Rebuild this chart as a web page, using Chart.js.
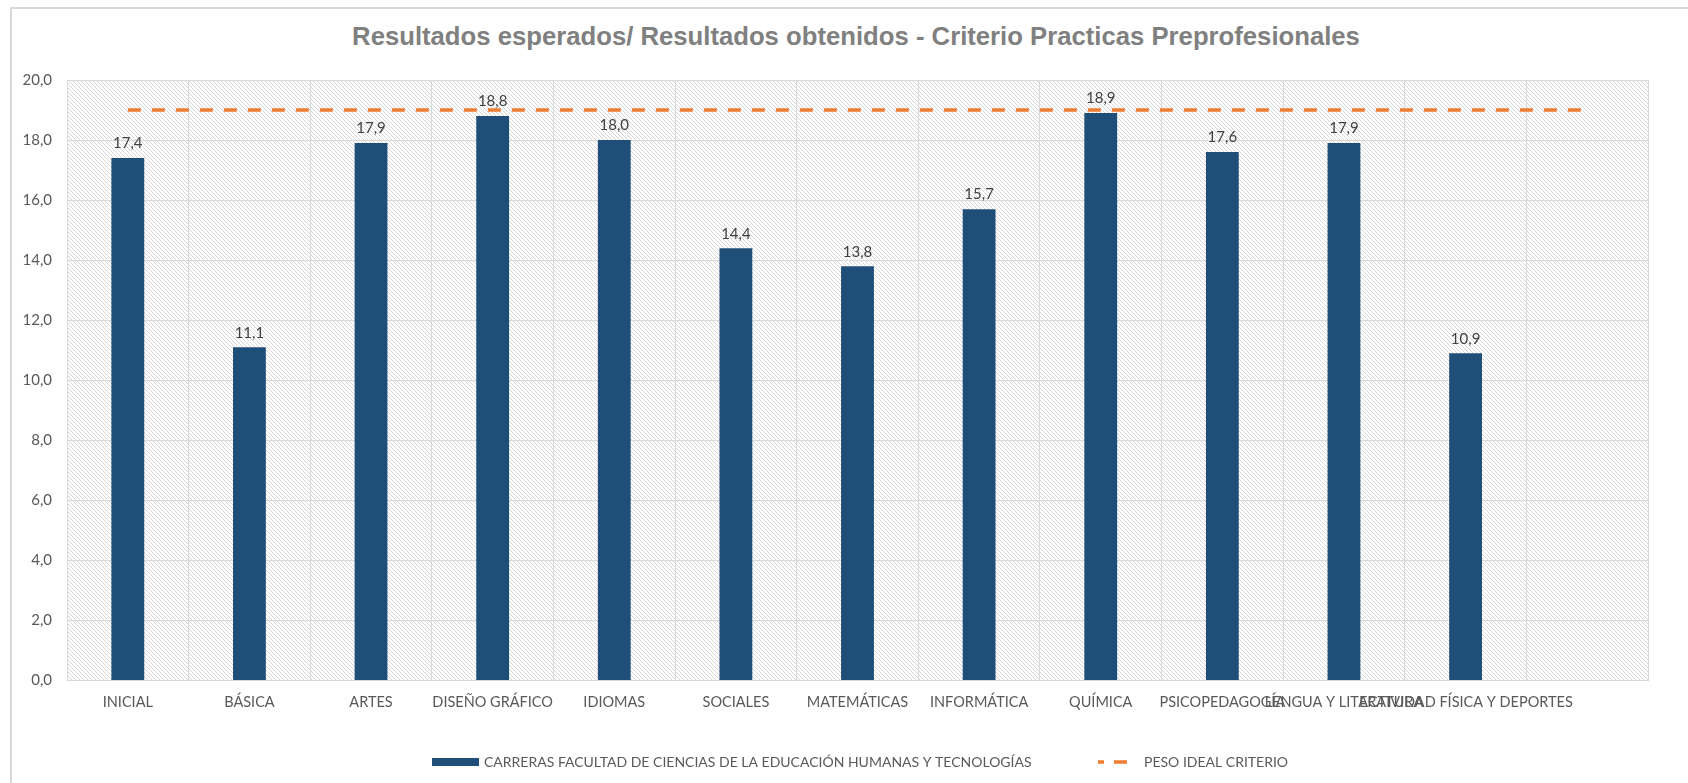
<!DOCTYPE html>
<html>
<head>
<meta charset="utf-8">
<script src="https://cdn.jsdelivr.net/npm/chart.js@4"></script>
<style>
  body { margin: 0; background: #fff; overflow: hidden; }
  #frame { position: absolute; left: 10px; top: 7px; width: 1720px; height: 820px; border: 2px solid #d9d9d9; }
  #title { position: absolute; left: 0; top: 22px; width: 1712px; text-align: center; line-height: 30px;
           font: bold 25.7px "Liberation Sans", Arial, sans-serif; color: #808080; }
  #chart { position: absolute; left: 0; top: 0; }
</style>
</head>
<body>
<div id="frame"></div>
<div id="title">Resultados esperados/ Resultados obtenidos - Criterio Practicas Preprofesionales</div>
<canvas id="chart" width="1688" height="783"></canvas>
<script>
const categories = ["INICIAL", "BÁSICA", "ARTES", "DISEÑO GRÁFICO", "IDIOMAS", "SOCIALES", "MATEMÁTICAS",
  "INFORMÁTICA", "QUÍMICA", "PSICOPEDAGOGÍA", "LENGUA Y LITERATURA", "ACTIVIDAD FÍSICA Y DEPORTES", ""];
const careerScores = [17.4, 11.1, 17.9, 18.8, 18.0, 14.4, 13.8, 15.7, 18.9, 17.6, 17.9, 10.9];
const idealWeight = [19, 19, 19, 19, 19, 19, 19, 19, 19, 19, 19, 19, 19];
const yTicks = [0, 2, 4, 6, 8, 10, 12, 14, 16, 18, 20];

const barLabel = "CARRERAS FACULTAD DE CIENCIAS DE LA EDUCACIÓN HUMANAS Y TECNOLOGÍAS";
const lineLabel = "PESO IDEAL CRITERIO";

function fmt(v) {
  return Number(v).toFixed(1).replace(".", ",");
}

// light diagonal hatch behind the plot
const tile = document.createElement("canvas");
tile.width = 4;
tile.height = 4;
const tctx = tile.getContext("2d");
tctx.fillStyle = "#ffffff";
tctx.fillRect(0, 0, 4, 4);
tctx.strokeStyle = "#d6d6d6";
tctx.lineWidth = 1;
tctx.beginPath();
tctx.moveTo(-1, -1); tctx.lineTo(5, 5);
tctx.moveTo(-1, 3); tctx.lineTo(1, 5);
tctx.moveTo(3, -1); tctx.lineTo(5, 1);
tctx.stroke();

const hatchPlugin = {
  id: "hatch",
  beforeDraw(chart) {
    const a = chart.chartArea;
    const ctx = chart.ctx;
    ctx.save();
    ctx.fillStyle = ctx.createPattern(tile, "repeat");
    ctx.fillRect(a.left, a.top, a.right - a.left, a.bottom - a.top);
    ctx.restore();
  }
};

const valueLabels = {
  id: "valueLabels",
  afterDatasetsDraw(chart) {
    const ctx = chart.ctx;
    const meta = chart.getDatasetMeta(1);
    ctx.save();
    ctx.font = "15px Lato";
    ctx.fillStyle = "#404040";
    ctx.textAlign = "center";
    ctx.textBaseline = "bottom";
    meta.data.forEach((bar, i) => {
      const v = chart.data.datasets[1].data[i];
      if (v == null) return;
      ctx.fillText(fmt(v), bar.x, bar.y - 7);
    });
    ctx.restore();
  }
};

const bottomLegend = {
  id: "bottomLegend",
  afterDraw(chart) {
    const ctx = chart.ctx;
    const y = 762;
    ctx.save();
    ctx.fillStyle = chart.data.datasets[1].backgroundColor;
    ctx.fillRect(432, y - 4, 47, 8);
    ctx.strokeStyle = chart.data.datasets[0].borderColor;
    ctx.lineWidth = 3.5;
    ctx.setLineDash([13, 10]);
    ctx.lineDashOffset = 7;
    ctx.beginPath();
    ctx.moveTo(1098, y);
    ctx.lineTo(1130, y);
    ctx.stroke();
    ctx.setLineDash([]);
    ctx.font = "14px Lato";
    ctx.fillStyle = "#595959";
    ctx.textBaseline = "middle";
    ctx.fillText(barLabel, 484, y);
    ctx.fillText(lineLabel, 1144, y);
    ctx.restore();
  }
};

new Chart(document.getElementById("chart"), {
  data: {
    labels: categories,
    datasets: [
      {
        type: "line",
        label: lineLabel,
        data: idealWeight,
        borderColor: "#ED7D31",
        borderWidth: 3.5,
        borderDash: [13, 11],
        pointRadius: 0,
        fill: false,
        order: 0
      },
      {
        type: "bar",
        label: barLabel,
        data: careerScores,
        backgroundColor: "#1F4E79",
        categoryPercentage: 1,
        barPercentage: 0.27,
        order: 1
      }
    ]
  },
  options: {
    responsive: false,
    animation: false,
    devicePixelRatio: 1,
    layout: { padding: { left: 22, right: 40, top: 80, bottom: 59 } },
    plugins: {
      legend: { display: false },
      title: { display: false },
      tooltip: { enabled: false }
    },
    scales: {
      x: {
        grid: { color: "#d9d9d9", lineWidth: 1, drawTicks: false, offset: true },
        border: { color: "#d9d9d9" },
        ticks: {
          autoSkip: false, maxRotation: 0, minRotation: 0, padding: 13,
          color: "#595959", font: { family: "Lato", size: 14.5 }
        }
      },
      y: {
        min: 0,
        max: 20,
        afterBuildTicks(scale) {
          scale.ticks = yTicks.map(v => ({ value: v }));
        },
        afterFit(scale) {
          scale.width = 45;
        },
        grid: { color: "#d9d9d9", lineWidth: 1, drawTicks: false },
        border: { color: "#d9d9d9" },
        ticks: {
          padding: 15,
          color: "#595959",
          font: { family: "Lato", size: 15 },
          callback: v => fmt(v)
        }
      }
    }
  },
  plugins: [hatchPlugin, valueLabels, bottomLegend]
});
</script>
</body>
</html>
